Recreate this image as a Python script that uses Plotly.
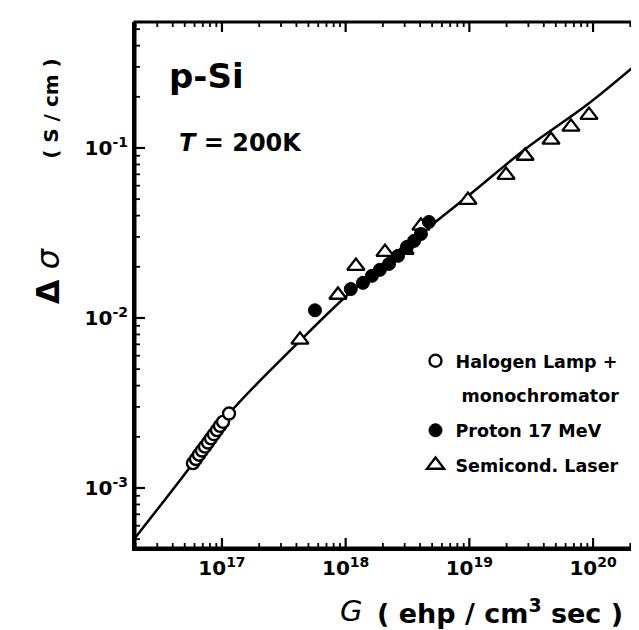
import math
import plotly.graph_objects as go

# ---- data ----
fit_G = [1.98e16, 5.83e16, 1.12e17, 4.11e17, 1.05e18, 3.19e18, 9.75e18, 2.98e19, 9.1e19, 2.68e20]
fit_sigma = [5.08e-4, 1.40e-3, 2.69e-3, 7.13e-3, 1.38e-2, 2.72e-2, 5.22e-2, 0.1014, 0.1815, 0.3475]

halogen_G = [5.83e16, 6.16e16, 6.52e16, 6.89e16, 7.29e16, 7.71e16, 8.15e16, 8.61e16, 9.11e16, 9.63e16, 1.02e17, 1.14e17]
halogen_sigma = [1.40e-3, 1.48e-3, 1.57e-3, 1.66e-3, 1.75e-3, 1.85e-3, 1.96e-3, 2.07e-3, 2.19e-3, 2.32e-3, 2.45e-3, 2.74e-3]

proton_G = [5.65e17, 1.10e18, 1.38e18, 1.63e18, 1.89e18, 2.24e18, 2.65e18, 3.13e18, 3.57e18, 4.06e18, 4.71e18]
proton_sigma = [1.11e-2, 1.48e-2, 1.61e-2, 1.77e-2, 1.92e-2, 2.08e-2, 2.32e-2, 2.62e-2, 2.84e-2, 3.12e-2, 3.67e-2]

laser_G = [4.27e17, 8.67e17, 1.21e18, 2.08e18, 3.02e18, 4.06e18, 9.74e18, 1.98e19, 2.82e19, 4.57e19, 6.63e19, 9.27e19]
laser_sigma = [7.43e-3, 1.365e-2, 2.02e-2, 2.44e-2, 2.51e-2, 3.48e-2, 4.94e-2, 6.93e-2, 8.97e-2, 0.1115, 0.133, 0.156]

x_tickvals = [1e17, 1e18, 1e19, 1e20]
x_ticktext = ["10<sup>17</sup>", "10<sup>18</sup>", "10<sup>19</sup>", "10<sup>20</sup>"]
y_tickvals = [1e-3, 1e-2, 1e-1]
y_ticktext = ["10<sup>-3</sup>", "10<sup>-2</sup>", "10<sup>-1</sup>"]
x_decades = [1e16, 1e17, 1e18, 1e19, 1e20]
y_decades = [1e-4, 1e-3, 1e-2, 1e-1]
minor_digits = [2, 3, 4, 5, 6, 7, 8, 9]

series_names = ["Halogen Lamp +", "\u00a0monochromator", "Proton 17 MeV", "Semicond. Laser"]

FONT = "DejaVu Sans, Liberation Sans, sans-serif"
X_RANGE = [16.297, 20.42]
Y_RANGE = [-3.353, -0.259]
W, H = 639, 630
M = dict(l=127, r=2, t=14, b=90)
MAJOR_LEN, MINOR_LEN = 10, 5

# pixels per decade of the plotting area (to express tick lengths on the log scales)
px_dec_x = (W - M["l"] - M["r"]) / (X_RANGE[1] - X_RANGE[0])
px_dec_y = (H - M["t"] - M["b"]) / (Y_RANGE[1] - Y_RANGE[0])


def in_range(v, rng):
    return rng[0] < math.log10(v) < rng[1]


def tick_segments(xvals, yvals, length):
    xs, ys = [], []
    dy = length / px_dec_y
    dx = length / px_dec_x
    for v in xvals:
        xs += [v, v, None, v, v, None]
        ys += [10 ** Y_RANGE[0], 10 ** (Y_RANGE[0] + dy), None, 10 ** Y_RANGE[1], 10 ** (Y_RANGE[1] - dy), None]
    for v in yvals:
        ys += [v, v, None, v, v, None]
        xs += [10 ** X_RANGE[0], 10 ** (X_RANGE[0] + dx), None, 10 ** X_RANGE[1], 10 ** (X_RANGE[1] - dx), None]
    return xs, ys


x_minor = [d * m for d in x_decades for m in minor_digits if in_range(d * m, X_RANGE)]
y_minor = [d * m for d in y_decades for m in minor_digits if in_range(d * m, Y_RANGE)]

fig = go.Figure()
# inward tick marks on all four sides
mx, my = tick_segments(x_tickvals, y_tickvals, MAJOR_LEN)
fig.add_trace(go.Scatter(x=mx, y=my, mode="lines", line=dict(color="black", width=2.2),
                         showlegend=False, hoverinfo="skip", connectgaps=False))
nx, ny = tick_segments(x_minor, y_minor, MINOR_LEN)
fig.add_trace(go.Scatter(x=nx, y=ny, mode="lines", line=dict(color="black", width=1.8),
                         showlegend=False, hoverinfo="skip", connectgaps=False))

fig.add_trace(go.Scatter(x=fit_G, y=fit_sigma, mode="lines", line=dict(color="black", width=2.5, shape="spline"),
                         showlegend=False, hoverinfo="skip"))
fig.add_trace(go.Scatter(x=laser_G, y=laser_sigma, mode="markers", name=series_names[3],
                         legendgroup="d", legendrank=4,
                         marker=dict(symbol="triangle-up", size=15, color="white", line=dict(color="black", width=2.3))))
fig.add_trace(go.Scatter(x=proton_G, y=proton_sigma, mode="markers", name=series_names[2],
                         legendgroup="c", legendrank=3,
                         marker=dict(symbol="circle", size=13, color="black", line=dict(color="black", width=1))))
fig.add_trace(go.Scatter(x=halogen_G, y=halogen_sigma, mode="markers", name=series_names[0],
                         legendgroup="a", legendrank=1,
                         marker=dict(symbol="circle", size=12, color="white", line=dict(color="black", width=2.4))))
# second line of the halogen legend entry (no symbol)
fig.add_trace(go.Scatter(x=[None], y=[None], mode="markers", name=series_names[1],
                         legendgroup="b", legendrank=2, hoverinfo="skip",
                         marker=dict(symbol="circle", size=1, color="rgba(0,0,0,0)", line=dict(width=0))))

tf = dict(family=FONT, size=20, color="black", weight="bold")
axis_base = dict(type="log", showgrid=False, zeroline=False, ticks="", tickmode="array",
                 showline=True, linecolor="black", linewidth=3, tickfont=tf)

fig.update_layout(
    width=W, height=H,
    margin=M,
    paper_bgcolor="white", plot_bgcolor="white",
    xaxis=dict(range=X_RANGE, tickvals=x_tickvals, ticktext=x_ticktext, **axis_base),
    yaxis=dict(range=Y_RANGE, tickvals=y_tickvals, ticktext=y_ticktext, **axis_base),
    shapes=[dict(type="rect", xref="paper", yref="paper", x0=0, x1=1, y0=0, y1=1,
                 line=dict(color="black", width=3), fillcolor="rgba(0,0,0,0)", layer="above")],
    showlegend=True,
    legend=dict(x=0.55, y=0.39, xanchor="left", yanchor="top", bgcolor="rgba(0,0,0,0)",
                font=dict(family=FONT, size=17.5, color="black", weight="bold"),
                traceorder="grouped", tracegroupgap=9, itemsizing="trace"),
    annotations=[
        dict(text="<b>p-Si</b>", x=0.062, y=0.897, xref="paper", yref="paper", xanchor="left", yanchor="middle",
             showarrow=False, font=dict(family=FONT, size=34, color="black")),
        dict(text="<b><i>T</i> = 200K</b>", x=0.082, y=0.770, xref="paper", yref="paper", xanchor="left",
             yanchor="middle", showarrow=False, font=dict(family=FONT, size=24, color="black")),
        dict(text="<b>Δ</b> <i>σ</i>", x=-0.17, y=(540 - 268) / 526, xref="paper", yref="paper",
             xanchor="center", yanchor="middle", textangle=-90,
             showarrow=False, font=dict(family=FONT, size=32, color="black")),
        dict(text="<b>( S / cm )</b>", x=-0.165, y=(540 - 100) / 526, xref="paper", yref="paper",
             xanchor="center", yanchor="middle", textangle=-90,
             showarrow=False, font=dict(family=FONT, size=20, color="black")),
        dict(text="<i>G</i>", x=(343 - 127) / 510, y=-0.12, xref="paper", yref="paper",
             xanchor="center", yanchor="middle", showarrow=False, font=dict(family=FONT, size=29, color="black")),
        dict(text="<b>( ehp / cm<sup>3</sup> sec )</b>", x=(367 - 127) / 510, y=-0.12, xref="paper", yref="paper",
             xanchor="left", yanchor="middle", showarrow=False, font=dict(family=FONT, size=27, color="black")),
    ],
)

fig.write_html("out.html")
